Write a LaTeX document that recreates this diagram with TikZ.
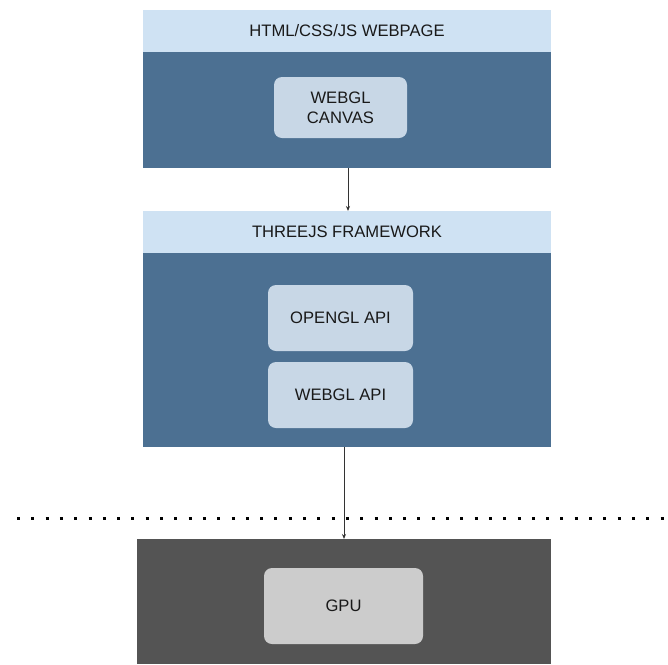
\documentclass[tikz,border=0pt]{standalone}
\usepackage{fontspec}
\setmainfont{Liberation Sans}
\usetikzlibrary{arrows.meta}
\definecolor{headblue}{HTML}{CFE2F3}
\definecolor{bodyblue}{HTML}{4C7092}
\definecolor{cellblue}{HTML}{C8D7E6}
\definecolor{bodygray}{HTML}{545454}
\definecolor{cellgray}{HTML}{CCCCCC}
\tikzset{
  layer/.style = {inner sep = 0, outer sep = 0, minimum width = 408pt},
  cell/.style = {rounded corners = 8pt, inner sep = 0, align = center,
    text = black!90},
  link/.style = {draw = black!80, line width = 0.8pt,
    -{Stealth[length = 5pt, width = 4pt]}}
}
\begin{document}
\begin{tikzpicture}[x = 1pt, y = -1pt, font = \fontsize{16.6}{20}\selectfont]
  \useasboundingbox (0, 0) rectangle (668, 664);
  % webpage layer
  \node[layer, fill = headblue, minimum height = 42pt, text = black!90]
  (pagehead) at (347, 31) {HTML/CSS/JS WEBPAGE};
  \node[layer, fill = bodyblue, minimum height = 116pt] (pagebody) at (347, 110)
  {};
  \node[cell, fill = cellblue, minimum width = 133pt, minimum height = 61pt]
  (canvas) at (340.5, 107.5) {WEBGL\\CANVAS};
  % threejs layer
  \node[layer, fill = headblue, minimum height = 42pt, text = black!90]
  (threehead) at (347, 232) {THREEJS FRAMEWORK};
  \node[layer, fill = bodyblue, minimum height = 194pt] (threebody) at (347, 350)
  {};
  \node[cell, fill = cellblue, minimum width = 145pt, minimum height = 66pt]
  (opengl) at (340.5, 318) {OPENGL API};
  \node[cell, fill = cellblue, minimum width = 145pt, minimum height = 66pt]
  (webgl) at (340.5, 395) {WEBGL API};
  % hardware layer
  \node[layer, fill = bodygray, minimum width = 414pt, minimum height = 125pt]
  (gpubody) at (344, 601.5) {};
  \node[cell, fill = cellgray, minimum width = 159pt, minimum height = 76pt]
  (gpu) at (343.5, 606) {GPU};
  % boundary between software and hardware
  \draw[line width = 3pt, dash pattern = on 3pt off 11.3pt] (17, 518) --
  (668, 518);
  % connect the layers
  \draw[link] ([xshift = 1pt]pagebody.south) -- ([xshift = 1pt]threehead.north);
  \draw[link] (threebody.south -| gpubody.north) -- (gpubody.north);
\end{tikzpicture}
\end{document}
